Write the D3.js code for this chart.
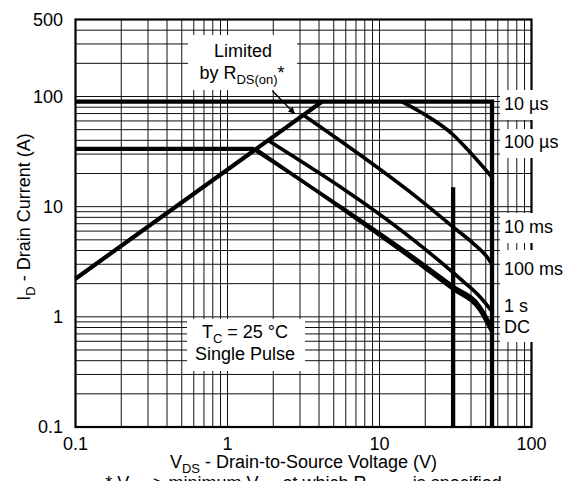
<!DOCTYPE html>
<html><head><meta charset="utf-8">
<script src="https://cdn.jsdelivr.net/npm/d3@7"></script>
<style>
body{margin:0;background:#fff}
svg{display:block}
text{font-family:"Liberation Sans",Arial,Helvetica,sans-serif;fill:#000}
</style>
</head><body>
<svg id="c" width="573" height="481"></svg>
<script>
// ---- data ----
const xTickValues = [0.1, 1, 10, 100];
const xTickLabels = ["0.1", "1", "10", "100"];
const yTickValues = [0.1, 1, 10, 100, 500];
const yTickLabels = ["0.1", "1", "10", "100", "500"];

// [V_DS (V), I_D (A)]
const rdsLimit   = [[0.1, 2.22], [4.2, 90]];
const pkgLimit   = [[0.1, 33.5], [1.5, 33.5]];
const limit10us  = [[0.1, 90], [55, 90], [55, 0.1]];
const limit100us = [[14, 90], [18.4, 73], [30.5, 45], [39, 31.7], [55, 18.5]];
const limit10ms  = [[3.1, 69], [18.4, 11.6], [32, 6.2], [41, 4.7], [50.5, 3.55], [55, 3.0]];
const limit100ms = [[1.82, 40.5], [18.4, 4.5], [35.5, 2.1], [45.6, 1.53], [55, 1.12]];
const limit1s    = [[1.47, 33.5], [18.4, 3.17], [30.6, 1.89], [45.6, 1.25], [55, 0.80]];
const limitDC    = [[1.53, 33.5], [18.4, 2.99], [30.6, 1.77], [45.6, 1.15], [55, 0.72]];
const line30V    = [[30.5, 15], [30.5, 0.1]];
const arrowPts   = [[1.97, 113], [2.76, 70]];

const seriesLabels = ["10 µs", "100 µs", "10 ms", "100 ms", "1 s", "DC"];

// ---- layout ----
const svg = d3.select("#c");
const L = 75.5, R = 531.5, T = 19.5, B = 427;
const x = d3.scaleLog().domain([0.1, 100]).range([L, R]);
const y = d3.scaleLog().domain([0.1, 500]).range([B, T]);

// grid
const xGrid = [], yGrid = [];
[0.1, 1, 10].forEach(d => { for (let k = 1; k <= 9; k++) xGrid.push(d * k); });
xGrid.push(100);
[0.1, 1, 10].forEach(d => { for (let k = 1; k <= 9; k++) yGrid.push(d * k); });
for (let k = 1; k <= 5; k++) yGrid.push(100 * k);

const g = svg.append("g");
g.selectAll(".vx").data(xGrid).join("line")
  .attr("x1", d => x(d)).attr("x2", d => x(d)).attr("y1", T).attr("y2", B)
  .attr("stroke", "#111").attr("stroke-width", 1);
g.selectAll(".hy").data(yGrid).join("line")
  .attr("x1", L).attr("x2", R).attr("y1", d => y(d)).attr("y2", d => y(d))
  .attr("stroke", "#111").attr("stroke-width", 1);
g.append("rect").attr("x", L).attr("y", T).attr("width", R - L).attr("height", B - T)
  .attr("fill", "none").attr("stroke", "#000").attr("stroke-width", 2.2);

// white label backgrounds
const boxes = [
  [188, 35, 109, 55], [187, 319, 118, 52],
  [500, 90, 73, 30], [500, 129, 73, 29], [500, 213, 73, 30], [500, 250, 73, 92]
];
svg.selectAll(".bx").data(boxes).join("rect")
  .attr("x", d => d[0]).attr("y", d => d[1]).attr("width", d => d[2]).attr("height", d => d[3])
  .attr("fill", "#fff");

// curves
const lin = d3.line().x(d => x(d[0])).y(d => y(d[1]));
const smooth = d3.line().x(d => x(d[0])).y(d => y(d[1])).curve(d3.curveMonotoneX);
const curves = [
  [rdsLimit, lin, 4.2], [pkgLimit, lin, 4.3], [limit10us, lin, 4.3],
  [limit100us, smooth, 3.6], [limit10ms, smooth, 3.6], [limit100ms, smooth, 3.6],
  [limit1s, smooth, 3.4], [limitDC, smooth, 3.4], [line30V, lin, 4.3]
];
svg.selectAll(".cv").data(curves).join("path")
  .attr("d", d => d[1](d[0])).attr("fill", "none").attr("stroke", "#000")
  .attr("stroke-width", d => d[2]).attr("stroke-linejoin", "miter");

// arrow
svg.append("defs").append("marker").attr("id", "ah").attr("viewBox", "0 0 10 10")
  .attr("refX", 9).attr("refY", 5).attr("markerWidth", 7).attr("markerHeight", 7)
  .attr("markerUnits", "userSpaceOnUse").attr("orient", "auto")
  .append("path").attr("d", "M0,0L10,5L0,10Z").attr("fill", "#000");
svg.append("path").attr("d", lin(arrowPts)).attr("stroke", "#000").attr("stroke-width", 1.4)
  .attr("fill", "none").attr("marker-end", "url(#ah)");

// tick labels
const fs = 18;
svg.selectAll(".xt").data(xTickValues).join("text")
  .attr("x", d => x(d)).attr("y", 450).attr("text-anchor", "middle").attr("font-size", fs)
  .text((d, i) => xTickLabels[i]);
svg.selectAll(".yt").data(yTickValues).join("text")
  .attr("x", 63).attr("y", d => y(d)).attr("dy", "0.35em").attr("text-anchor", "end").attr("font-size", fs)
  .text((d, i) => yTickLabels[i]);

// helper for sub text
function rich(sel, parts) {
  parts.forEach(p => {
    const t = sel.append("tspan").text(p[0]);
    if (p[1] === "sub") t.attr("font-size", 13).attr("dy", 5);
    if (p[1] === "up") t.attr("dy", -5);
  });
}

// axis titles
rich(svg.append("text").attr("x", (L + R) / 2).attr("y", 468).attr("text-anchor", "middle").attr("font-size", fs),
  [["V"], ["DS", "sub"], [" - Drain-to-Source Voltage (V)", "up"]]);
rich(svg.append("text").attr("transform", "translate(30,217) rotate(-90)").attr("text-anchor", "middle").attr("font-size", fs),
  [["I"], ["D", "sub"], [" - Drain Current (A)", "up"]]);
rich(svg.append("text").attr("x", (L + R) / 2).attr("y", 489).attr("text-anchor", "middle").attr("font-size", fs),
  [["* V"], ["GS", "sub"], [" > minimum V", "up"], ["GS", "sub"], [" at which R", "up"], ["DS(on)", "sub"], [" is specified", "up"]]);

// annotations
svg.append("text").attr("x", 243).attr("y", 57).attr("text-anchor", "middle").attr("font-size", fs).text("Limited");
rich(svg.append("text").attr("x", 242).attr("y", 79).attr("text-anchor", "middle").attr("font-size", fs),
  [["by R"], ["DS(on)", "sub"], ["*", "up"]]);
rich(svg.append("text").attr("x", 245).attr("y", 338).attr("text-anchor", "middle").attr("font-size", fs),
  [["T"], ["C", "sub"], [" = 25 °C", "up"]]);
svg.append("text").attr("x", 245).attr("y", 360).attr("text-anchor", "middle").attr("font-size", fs).text("Single Pulse");

const labelY = [110, 148, 233, 275, 311.5, 333];
svg.selectAll(".sl").data(seriesLabels).join("text")
  .attr("x", 504).attr("y", (d, i) => labelY[i]).attr("font-size", fs).text(d => d);
</script>
</body></html>
